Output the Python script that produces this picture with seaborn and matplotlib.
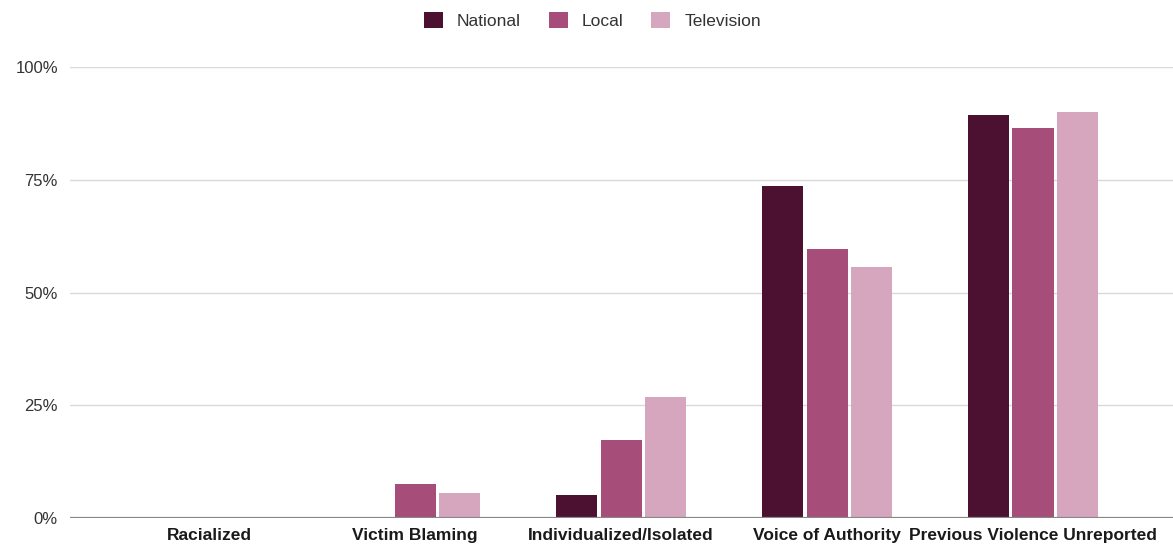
import matplotlib
matplotlib.use("Agg")
import matplotlib.pyplot as plt
import matplotlib.ticker as mtick
import seaborn as sns
import pandas as pd

categories = ["Racialized", "Victim Blaming", "Individualized/Isolated",
              "Voice of Authority", "Previous Violence Unreported"]
national = [0.0, 0.0, 0.052, 0.736, 0.894]
local = [0.0, 0.075, 0.173, 0.596, 0.865]
television = [0.0, 0.055, 0.268, 0.557, 0.900]
series_names = ["National", "Local", "Television"]
colors = ["#4c1130", "#a64d79", "#d5a6bd"]
y_ticks = [0, 0.25, 0.5, 0.75, 1.0]

rows = []
for name, vals in zip(series_names, [national, local, television]):
    for cat, v in zip(categories, vals):
        rows.append({"category": cat, "source": name, "share": v})
df = pd.DataFrame(rows)

sns.set_style("white")
plt.rcParams["font.family"] = ["Liberation Sans", "DejaVu Sans"]

fig = plt.figure(figsize=(11.73, 5.46), dpi=100)
ax = fig.add_axes([0.06, 0.051, 0.94, 0.826])

sns.barplot(data=df, x="category", y="share", hue="source",
            order=categories, hue_order=series_names, palette=colors,
            saturation=1, width=0.65, gap=0.08, errorbar=None, ax=ax,
            legend=False, linewidth=0, zorder=3)

ax.set_ylim(0, 1.0)
ax.set_xlim(-0.675, 4.68)
ax.set_yticks(y_ticks)
ax.yaxis.set_major_formatter(mtick.PercentFormatter(1.0, decimals=0))
ax.grid(axis="y", color="#d9d9d9", linewidth=1, zorder=0)
ax.axhline(0, color="#888888", linewidth=1.6, zorder=4)
for s in ax.spines.values():
    s.set_visible(False)
ax.set_xlabel("")
ax.set_ylabel("")
ax.tick_params(axis="y", length=0, pad=9, labelsize=12, labelcolor="#333333")
ax.tick_params(axis="x", length=0, pad=7)
for lab in ax.get_xticklabels():
    lab.set_fontweight("bold")
    lab.set_fontsize(12.5)
    lab.set_color("#1a1a1a")

handles = [plt.Rectangle((0, 0), 1, 1, facecolor=c, edgecolor="none") for c in colors]
fig.legend(handles, series_names, loc="center", bbox_to_anchor=(0.505, 0.963),
           ncol=3, frameon=False, handlelength=1.1, handleheight=1.1,
           handletextpad=0.8, columnspacing=1.6,
           prop={"size": 12.5}, labelcolor="#333333")

fig.savefig("out.png", dpi=100, facecolor="white")
